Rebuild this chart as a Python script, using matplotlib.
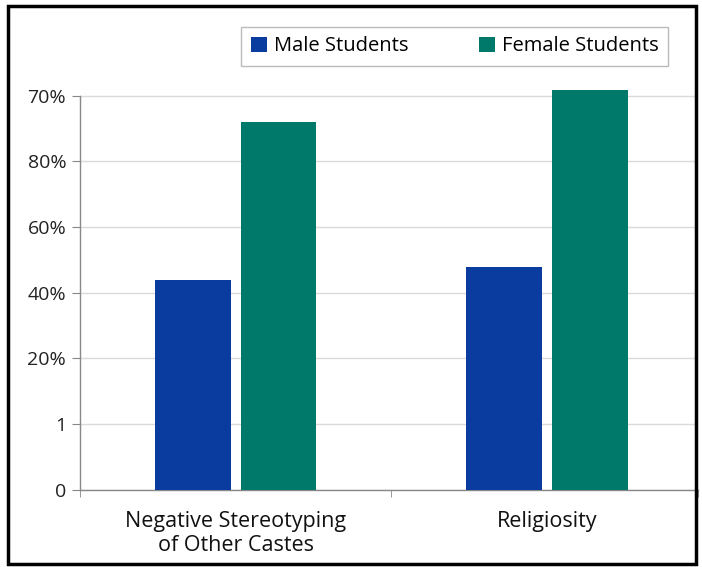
import matplotlib.pyplot as plt
import numpy as np
from matplotlib.patches import Rectangle

plt.rcParams['font.family'] = ['Open Sans', 'DejaVu Sans']

categories = ["Negative Stereotyping\nof Other Castes", "Religiosity"]
male = [32, 34]
female = [56, 60.8]
series_names = ["Male Students", "Female Students"]
ytick_vals = [0, 10, 20, 30, 40, 50, 60]
ytick_labels = ["0", "1", "20%", "40%", "60%", "80%", "70%"]

blue = "#0a3c9f"
teal = "#00796b"

fig = plt.figure(figsize=(7.02, 5.67), dpi=100)
ax = fig.add_axes([0.114, 0.136, 0.880, 0.730])

x = np.arange(len(categories))
w = 0.243
off = 0.138
ax.bar(x - off, male, w, color=blue, label=series_names[0], zorder=3)
ax.bar(x + off, female, w, color=teal, label=series_names[1], zorder=3)

ax.set_xlim(-0.5, 1.485)
ax.set_ylim(0, 63)
ax.set_yticks(ytick_vals)
ax.set_yticklabels(ytick_labels, fontsize=14, color="#222222")
ax.yaxis.grid(True, color="#dadada", linewidth=1, zorder=0)

ax.set_xticks(x)
ax.set_xticklabels(categories, fontsize=15.5, color="#111111", linespacing=1.2)
ax.tick_params(axis='x', length=0, pad=15)
ax.set_xticks([-0.5, 0.5, 1.485], minor=True)
ax.tick_params(axis='x', which='minor', length=5, color="#888888")
ax.tick_params(axis='y', length=6, color="#888888", pad=4)

for side in ["top", "right"]:
    ax.spines[side].set_visible(False)
for side in ["left", "bottom"]:
    ax.spines[side].set_color("#888888")
    ax.spines[side].set_linewidth(1)
ax.spines["left"].set_bounds(0, 60)

leg = fig.legend(loc="center", bbox_to_anchor=(0.6475, 0.918), ncol=2,
                 fontsize=14.5, frameon=True, fancybox=False, edgecolor="#aaaaaa",
                 handlelength=0.8, handleheight=0.8, handletextpad=0.35,
                 columnspacing=3.5, borderpad=0.45)
leg.get_frame().set_linewidth(1)

# outer black frame
fig.patches.append(Rectangle((0.012, 0.005), 0.980, 0.985, transform=fig.transFigure,
                             fill=False, edgecolor="black", linewidth=2.5))

fig.savefig("out.png", dpi=100)
